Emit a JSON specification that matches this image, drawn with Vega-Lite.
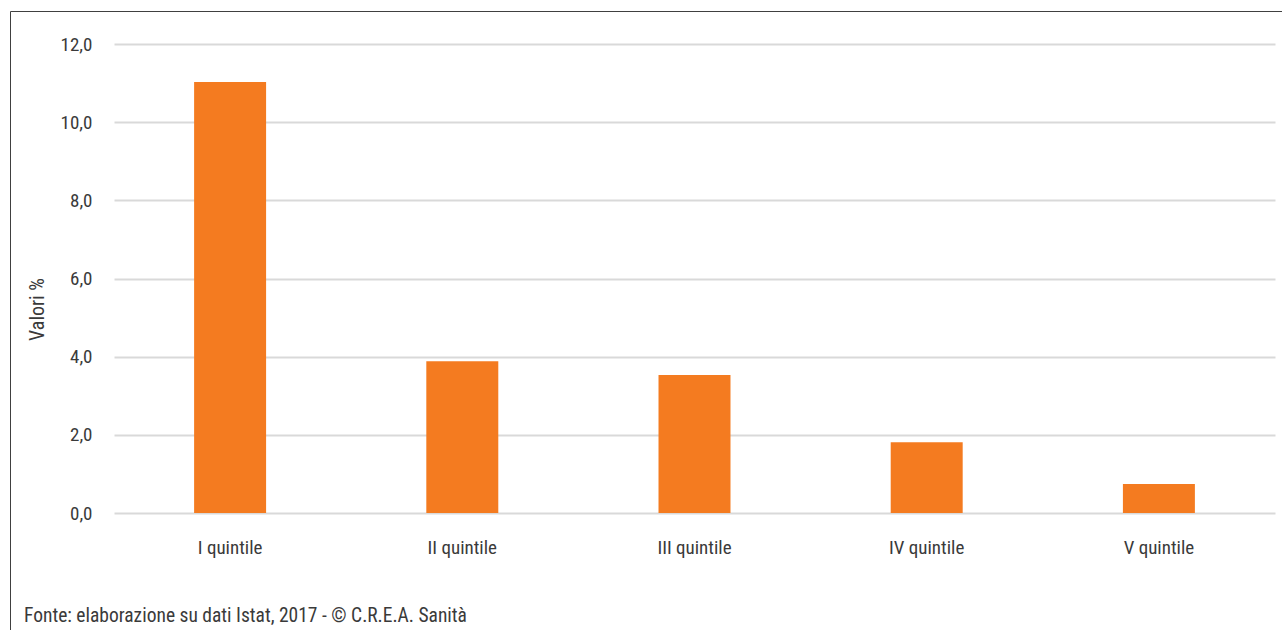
{
  "$schema": "https://vega.github.io/schema/vega-lite/v6.json",
  "autosize": "none",
  "width": 1280,
  "height": 630,
  "padding": {"left": 10, "top": 11, "right": 0, "bottom": 0},
  "background": "white",
  "config": {
    "locale": {"number": {"decimal": ",", "thousands": ".", "grouping": [3], "currency": ["€", ""]}},
    "view": {"stroke": "#404040", "strokeWidth": 1},
    "font": "'Roboto Condensed', 'Liberation Sans Narrow', 'DejaVu Sans Condensed', Roboto, sans-serif"
  },
  "title": {
    "text": "Fonte: elaborazione su dati Istat, 2017 - © C.R.E.A. Sanità",
    "orient": "bottom",
    "anchor": "start",
    "frame": "group",
    "offset": -34,
    "dx": 14,
    "fontSize": 19.5,
    "fontWeight": "normal",
    "color": "#3a3a3a"
  },
  "data": {
    "values": [
      {"quintile": "I quintile", "valore": 11.03},
      {"quintile": "II quintile", "valore": 3.88},
      {"quintile": "III quintile", "valore": 3.53},
      {"quintile": "IV quintile", "valore": 1.81},
      {"quintile": "V quintile", "valore": 0.74}
    ]
  },
  "mark": {"type": "bar", "color": "#F47B20"},
  "encoding": {
    "x": {
      "field": "quintile",
      "type": "nominal",
      "sort": null,
      "scale": {"range": [104, 1265], "paddingInner": 0.69, "paddingOuter": 0.345},
      "axis": {
        "orient": "bottom",
        "offset": -128,
        "domain": false,
        "ticks": false,
        "tickSize": 0,
        "grid": false,
        "labelAngle": 0,
        "labelPadding": 25,
        "labelFontSize": 19,
        "labelColor": "#3a3a3a",
        "title": null
      }
    },
    "y": {
      "field": "valore",
      "type": "quantitative",
      "scale": {"domain": [0, 12], "range": [502, 33]},
      "axis": {
        "offset": -104,
        "domain": false,
        "ticks": false,
        "tickSize": 0,
        "grid": true,
        "gridColor": "#d9d9d9",
        "gridWidth": 2,
        "values": [0, 2, 4, 6, 8, 10, 12],
        "format": ".1f",
        "labelPadding": 22,
        "labelFontSize": 19,
        "labelColor": "#3a3a3a",
        "title": "Valori %",
        "titleFontSize": 20,
        "titleFontWeight": "normal",
        "titleColor": "#3a3a3a",
        "titlePadding": 13,
        "titleY": 298
      }
    }
  }
}
